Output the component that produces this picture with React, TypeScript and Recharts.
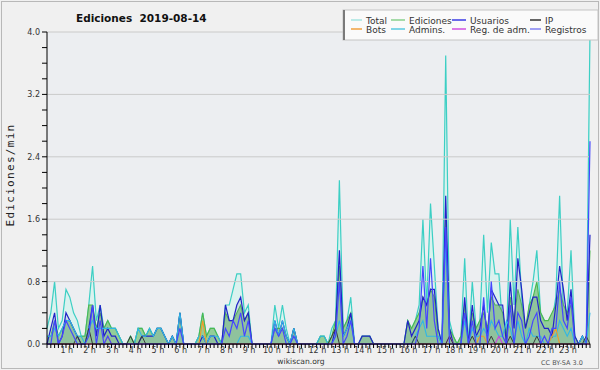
import { ComposedChart, Area, Line, XAxis, YAxis, ReferenceLine, CartesianGrid } from "recharts";

// one value per 10 minutes, six per hour (rows = hours 0..23)
const total = [
  0.2, 0.4, 0.8, 0.2, 0.3, 0.7,
  0.6, 0.4, 0.3, 0.1, 0.1, 0.5,
  1.0, 0.3, 0.5, 0.2, 0.3, 0.2,
  0.2, 0.1, 0, 0, 0.1, 0,
  0.2, 0.2, 0.1, 0.2, 0.1, 0.2,
  0.2, 0.1, 0, 0.1, 0, 0.4,
  0, 0, 0, 0, 0.1, 0.4,
  0.1, 0.2, 0.2, 0.1, 0, 0.5,
  0.5, 0.7, 0.9, 0.9, 0.4, 0.5,
  0, 0, 0, 0, 0, 0,
  0.5, 0.2, 0.5, 0.2, 0, 0.2,
  0, 0, 0, 0, 0, 0,
  0.1, 0.1, 0, 0.2, 0.3, 2.1,
  0.2, 0.3, 0.6, 0, 0, 0.1,
  0.1, 0.1, 0, 0, 0, 0,
  0, 0, 0, 0, 0, 0.3,
  0.2, 0.3, 0.5, 1.6, 0.5, 1.8,
  1.0, 0.2, 0, 3.7, 0.3, 0.1,
  0, 0.1, 1.1, 0, 0.8, 0.2,
  0.3, 1.4, 0.4, 1.3, 0.9, 0.9,
  0.2, 0.1, 1.6, 0.5, 1.5, 0.6,
  0.1, 0.5, 0.8, 1.2, 0.4, 0.3,
  0.2, 0.3, 0.6, 1.9, 0.4, 0.4,
  1.2, 0.1, 0, 0.1, 0, 4.0,
];

const ediciones = [
  0.1, 0.1, 0.3, 0.1, 0.2, 0.3,
  0.3, 0.2, 0.1, 0.1, 0.1, 0.5,
  0.5, 0.2, 0.4, 0.2, 0.3, 0.2,
  0.2, 0.1, 0, 0, 0.1, 0,
  0.2, 0.2, 0.1, 0.2, 0.1, 0.2,
  0.2, 0.1, 0, 0.1, 0, 0.4,
  0, 0, 0, 0, 0.1, 0.4,
  0.1, 0.2, 0.2, 0.1, 0, 0.4,
  0.3, 0.3, 0.4, 0.5, 0.3, 0.4,
  0, 0, 0, 0, 0, 0,
  0.2, 0.2, 0.2, 0.1, 0, 0.2,
  0, 0, 0, 0, 0, 0,
  0.1, 0.1, 0, 0.1, 0.3, 1.0,
  0.2, 0.3, 0.4, 0, 0, 0.1,
  0.1, 0.1, 0, 0, 0, 0,
  0, 0, 0, 0, 0, 0.3,
  0.2, 0.3, 0.4, 0.6, 0.5, 0.7,
  0.6, 0.1, 0, 1.6, 0.2, 0.1,
  0, 0.1, 0.5, 0, 0.4, 0.2,
  0.3, 0.4, 0.2, 0.6, 0.5, 0.5,
  0.4, 0.1, 0.6, 0.3, 0.7, 0.5,
  0.2, 0.5, 0.6, 0.8, 0.4, 0.3,
  0.3, 0.4, 0.5, 0.7, 0.5, 0.4,
  0.5, 0.1, 0, 0.1, 0, 1.2,
];

const usuarios = [
  0, 0.2, 0.4, 0, 0.1, 0.4,
  0.3, 0.2, 0.1, 0, 0, 0.2,
  0.5, 0.1, 0.5, 0.1, 0.2, 0.1,
  0.1, 0, 0, 0, 0, 0,
  0, 0.1, 0.1, 0.1, 0.1, 0.2,
  0.2, 0.1, 0, 0.1, 0, 0.4,
  0, 0, 0, 0, 0, 0.1,
  0, 0.1, 0.1, 0, 0, 0.5,
  0.3, 0.3, 0.5, 0.6, 0.3, 0.4,
  0, 0, 0, 0, 0, 0,
  0.3, 0.1, 0.3, 0.1, 0, 0.2,
  0, 0, 0, 0, 0, 0,
  0, 0, 0, 0, 0.2, 1.2,
  0.1, 0.2, 0.4, 0, 0, 0.1,
  0.1, 0.1, 0, 0, 0, 0,
  0, 0, 0, 0, 0, 0.3,
  0.1, 0.2, 0.3, 0.6, 0.5, 0.7,
  0.7, 0.2, 0, 1.9, 0.2, 0,
  0, 0, 0.6, 0, 0.5, 0.1,
  0.2, 0.5, 0.1, 0.7, 0.6, 0.5,
  0.5, 0, 0.8, 0.2, 1.1, 0.7,
  0.2, 0.4, 0.6, 0.6, 0.3, 0.2,
  0.2, 0.1, 0.5, 1.0, 0.7, 0.3,
  0.7, 0.1, 0, 0.1, 0, 1.4,
];

const ip = [
  0, 0, 0, 0, 0, 0,
  0, 0, 0.1, 0, 0, 0.2,
  0, 0, 0, 0, 0, 0,
  0, 0, 0, 0, 0.1, 0,
  0, 0.1, 0, 0, 0, 0,
  0, 0, 0, 0, 0, 0,
  0, 0, 0, 0, 0, 0,
  0, 0, 0, 0, 0, 0,
  0, 0, 0, 0, 0, 0,
  0, 0, 0, 0, 0, 0,
  0, 0, 0, 0, 0, 0,
  0, 0, 0, 0, 0, 0,
  0, 0, 0, 0.1, 0.2, 0,
  0, 0, 0, 0, 0, 0,
  0, 0, 0, 0, 0, 0,
  0, 0, 0, 0, 0, 0,
  0, 0.1, 0, 0, 0, 0,
  0, 0, 0, 0, 0.1, 0,
  0, 0, 0, 0, 0.1, 0,
  0, 0, 0, 0.1, 0, 0,
  0, 0, 0.1, 0, 0, 0,
  0, 0, 0, 0.1, 0, 0,
  0, 0, 0, 0, 0, 0,
  0, 0, 0, 0, 0.1, 0,
];

const bots = [
  0, 0, 0, 0, 0, 0,
  0, 0, 0, 0, 0, 0,
  0, 0, 0, 0, 0.1, 0,
  0, 0, 0, 0, 0, 0,
  0, 0, 0, 0, 0, 0,
  0, 0, 0, 0, 0, 0,
  0, 0, 0, 0, 0, 0.3,
  0, 0, 0, 0, 0, 0,
  0, 0, 0, 0, 0, 0,
  0, 0, 0, 0, 0, 0,
  0, 0, 0, 0, 0, 0,
  0, 0, 0, 0, 0, 0,
  0, 0, 0, 0, 0, 0,
  0, 0, 0, 0, 0, 0,
  0, 0, 0, 0, 0, 0,
  0, 0, 0, 0, 0, 0,
  0, 0, 0, 0, 0, 0,
  0, 0, 0, 0, 0, 0,
  0, 0, 0, 0, 0, 0,
  0.1, 0.1, 0, 0, 0, 0,
  0, 0, 0, 0, 0, 0,
  0, 0, 0, 0, 0, 0,
  0, 0.1, 0.2, 0, 0, 0,
  0, 0, 0, 0, 0, 0,
];

const admins = [
  0.1, 0.1, 0.2, 0.1, 0.2, 0.3,
  0.3, 0.2, 0.1, 0.1, 0, 0.2,
  0.3, 0.2, 0.2, 0.2, 0.2, 0.2,
  0.2, 0.1, 0, 0, 0, 0,
  0.2, 0.1, 0.1, 0.2, 0.1, 0.2,
  0.2, 0.1, 0, 0.1, 0, 0.4,
  0, 0, 0, 0, 0.1, 0.1,
  0, 0.1, 0.1, 0.1, 0, 0,
  0, 0, 0, 0.1, 0.1, 0.1,
  0, 0, 0, 0, 0, 0,
  0.3, 0.1, 0.3, 0.1, 0, 0.2,
  0, 0, 0, 0, 0, 0,
  0.1, 0.1, 0, 0, 0.1, 0.3,
  0.1, 0.2, 0.3, 0, 0, 0,
  0, 0, 0, 0, 0, 0,
  0, 0, 0, 0, 0, 0,
  0, 0.1, 0.2, 0.3, 0.1, 0.1,
  0.1, 0.1, 0, 1.3, 0.1, 0,
  0, 0, 0.3, 0, 0.2, 0.1,
  0.1, 0.2, 0.1, 0.3, 0.2, 0.1,
  0.1, 0.3, 0.2, 0, 0.3, 0.1,
  0, 0.2, 0.1, 0.1, 0.1, 0,
  0, 0.1, 0.1, 0.3, 0.2, 0.1,
  0.2, 0, 0, 0.1, 0, 0.4,
];

const regAdm = [
  0, 0, 0, 0, 0, 0,
  0, 0, 0, 0, 0, 0,
  0, 0, 0, 0, 0, 0,
  0, 0, 0, 0, 0, 0,
  0, 0, 0, 0, 0, 0,
  0, 0, 0, 0, 0, 0,
  0, 0, 0, 0, 0, 0,
  0, 0, 0, 0, 0, 0,
  0, 0, 0, 0, 0, 0,
  0, 0, 0, 0, 0, 0,
  0, 0, 0, 0, 0, 0,
  0, 0, 0, 0, 0, 0,
  0, 0, 0, 0, 0, 0,
  0, 0, 0, 0, 0, 0,
  0, 0, 0, 0, 0, 0,
  0, 0, 0, 0, 0, 0,
  0, 0, 0, 0, 0, 0,
  0, 0, 0, 0, 0.1, 0,
  0, 0, 0, 0, 0, 0,
  0, 0, 0, 0, 0, 0.1,
  0, 0, 0, 0, 0, 0,
  0, 0, 0, 0, 0, 0,
  0, 0, 0, 0, 0, 0,
  0, 0, 0, 0, 0, 0,
];

const registros = [
  0, 0, 0.3, 0, 0.1, 0.3,
  0.2, 0.1, 0, 0, 0, 0.1,
  0.5, 0, 0.3, 0, 0.1, 0,
  0, 0, 0, 0, 0, 0,
  0, 0, 0, 0, 0, 0,
  0, 0, 0, 0, 0, 0.2,
  0, 0, 0, 0, 0, 0,
  0, 0, 0, 0, 0, 0.2,
  0.1, 0.3, 0.2, 0.4, 0.1, 0.3,
  0, 0, 0, 0, 0, 0,
  0.2, 0.1, 0.2, 0, 0, 0.1,
  0, 0, 0, 0, 0, 0,
  0, 0, 0, 0, 0.1, 0.8,
  0, 0.1, 0.3, 0, 0, 0,
  0, 0, 0, 0, 0, 0,
  0, 0, 0, 0, 0, 0,
  0, 0, 0.2, 1.0, 0.2, 1.1,
  0.3, 0, 0, 1.5, 0, 0,
  0, 0, 0.4, 0, 0.3, 0,
  0, 0.6, 0, 0.8, 0.2, 0.3,
  0.1, 0, 0.5, 0, 0.4, 0.3,
  0, 0.1, 0.3, 0.4, 0, 0.1,
  0, 0.2, 0.2, 0.8, 0.3, 0.2,
  0.6, 0, 0, 0, 0, 2.6,
];

const hourLabels = [
  "1 h", "2 h", "3 h", "4 h", "5 h", "6 h", "7 h", "8 h", "9 h", "10 h", "11 h", "12 h",
  "13 h", "14 h", "15 h", "16 h", "17 h", "18 h", "19 h", "20 h", "21 h", "22 h", "23 h",
];

const yTicks = [0, 0.2, 0.4, 0.6, 0.8, 1.0, 1.2, 1.4, 1.6, 1.8, 2.0, 2.2, 2.4, 2.6, 2.8, 3.0, 3.2, 3.4, 3.6, 3.8, 4.0];
const yLabels = [0, 0.8, 1.6, 2.4, 3.2, 4.0];

const slots = total.map((_, i) => i);
const data = slots.map((i) => ({
  slot: i,
  total: total[i],
  ediciones: ediciones[i],
  usuarios: usuarios[i],
  ip: ip[i],
  bots: bots[i],
  admins: admins[i],
  regAdm: regAdm[i],
  registros: registros[i],
}));

const legendItems = [
  { name: "Total", color: "#a6e4e0", col: 0, row: 0 },
  { name: "Ediciones", color: "#88d08c", col: 1, row: 0 },
  { name: "Usuarios", color: "#3a3ae4", col: 2, row: 0 },
  { name: "IP", color: "#333333", col: 3, row: 0 },
  { name: "Bots", color: "#f0a040", col: 0, row: 1 },
  { name: "Admins.", color: "#58c8e0", col: 1, row: 1 },
  { name: "Reg. de adm.", color: "#d050e0", col: 2, row: 1 },
  { name: "Registros", color: "#8080f0", col: 3, row: 1 },
];
const legendCols = [351, 391, 452, 530];

const font = "DejaVu Sans, sans-serif";

function HourTick(props: any) {
  const { x, payload } = props;
  const v = payload.value;
  if (v % 6 !== 0 || v === 0) return <g />;
  return (
    <text x={x - 3} y={353} textAnchor="middle" fontSize={8} fill="#333" fontFamily={font}>
      {hourLabels[v / 6 - 1]}
    </text>
  );
}

function LevelTick(props: any) {
  const { x, y, payload } = props;
  if (!yLabels.includes(payload.value)) return <g />;
  return (
    <text x={x} y={y + 3} textAnchor="end" fontSize={8} fill="#333" fontFamily={font}>
      {payload.value.toFixed(1)}
    </text>
  );
}

export default function App() {
  return (
    <div style={{ position: "absolute", left: 0, top: 0, width: 600, height: 370, background: "#f0f0f0" }}>
      <div style={{ position: "absolute", left: 1, top: 1, width: 596, height: 366, border: "1px solid #b8b8b8" }} />
      <div style={{ position: "absolute", left: 0, top: 0 }}>
        <ComposedChart width={600} height={370} data={data} margin={{ top: 32, right: 10, bottom: 0, left: 0 }}>
          <CartesianGrid horizontal={false} vertical={false} fill="#eceef1" />
          {yLabels.slice(1).map((v) => (
            <ReferenceLine key={v} y={v} stroke="#cacaca" strokeWidth={1} />
          ))}
          <Area type="linear" dataKey="total" stroke="#3ccfc4" strokeWidth={1.2} fill="#d6f2ef" fillOpacity={0.8} dot={false} isAnimationActive={false} />
          <Area type="linear" dataKey="ediciones" stroke="#4cb850" strokeWidth={1.1} fill="#8fcb92" fillOpacity={0.95} dot={false} isAnimationActive={false} />
          <Area type="linear" dataKey="usuarios" stroke="#2222c8" strokeWidth={1.2} fill="#8090b8" fillOpacity={0.18} dot={false} isAnimationActive={false} />
          <Line type="linear" dataKey="admins" stroke="#30b6e6" strokeWidth={1.1} dot={false} isAnimationActive={false} />
          <Line type="linear" dataKey="bots" stroke="#f09a28" strokeWidth={1.1} dot={false} isAnimationActive={false} />
          <Line type="linear" dataKey="regAdm" stroke="#d040e0" strokeWidth={1.1} dot={false} isAnimationActive={false} />
          <Line type="linear" dataKey="ip" stroke="#3a3a3a" strokeWidth={1} dot={false} isAnimationActive={false} />
          <Line type="linear" dataKey="registros" stroke="#4646ff" strokeWidth={1.2} dot={false} isAnimationActive={false} />
          <XAxis
            type="number"
            dataKey="slot"
            domain={[0, 143]}
            ticks={slots}
            interval={0}
            height={26}
            tickSize={4}
            tick={<HourTick />}
            axisLine={{ stroke: "#000" }}
            tickLine={{ stroke: "#000" }}
          />
          <YAxis
            type="number"
            domain={[0, 4]}
            ticks={yTicks}
            interval={0}
            width={47}
            tickSize={5}
            tick={<LevelTick />}
            axisLine={{ stroke: "#000" }}
            tickLine={{ stroke: "#000" }}
          />
        </ComposedChart>
      </div>
      <svg width={600} height={370} style={{ position: "absolute", left: 0, top: 0, pointerEvents: "none" }}>
        <text x={76} y={22} fontSize={10.5} fontWeight="bold" fill="#111" fontFamily={font} style={{ whiteSpace: "pre" }}>
          {"Ediciones  2019-08-14"}
        </text>
        <text
          transform="translate(14,175) rotate(-90)"
          textAnchor="middle"
          fontSize={11}
          fill="#222"
          fontFamily="DejaVu Sans Mono, monospace"
          letterSpacing={1.3}
        >
          Ediciones/min
        </text>
        <rect x={343} y={10} width={255} height={30} fill="#fafafa" stroke="#c4c4c4" />
        <rect x={343} y={10} width={2} height={30} fill="#7a7a7a" />
        {legendItems.map((it) => {
          const lx = legendCols[it.col];
          const ly = it.row === 0 ? 20 : 29;
          const w = it.col === 0 ? 11 : it.col === 3 ? 11 : 14;
          return (
            <g key={it.name}>
              <line x1={lx} x2={lx + w} y1={ly} y2={ly} stroke={it.color} strokeWidth={1.5} />
              <text x={lx + w + 4} y={ly + 3.5} fontSize={9} fill="#333" fontFamily={font}>
                {it.name}
              </text>
            </g>
          );
        })}
        <text x={301} y={364} textAnchor="middle" fontSize={7.6} fill="#333" fontFamily={font}>
          wikiscan.org
        </text>
        <text x={562} y={365} textAnchor="middle" fontSize={6.5} fill="#555" fontFamily={font}>
          CC BY-SA 3.0
        </text>
      </svg>
    </div>
  );
}
